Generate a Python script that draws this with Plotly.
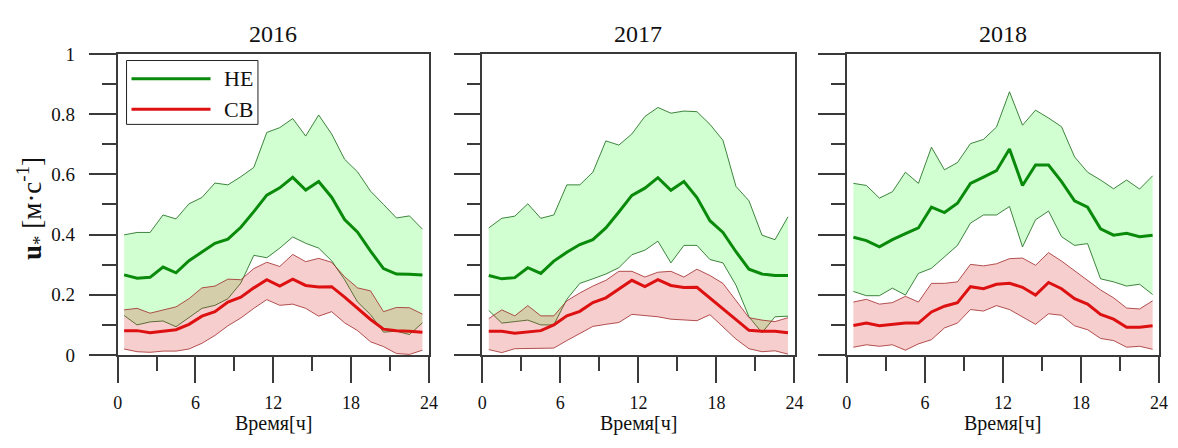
import plotly.graph_objects as go

hours = [h + 0.5 for h in range(24)]
years = ["2016", "2017", "2018"]

# 2016
ne_up_2016 = [0.399, 0.407, 0.407, 0.465, 0.452, 0.502, 0.523, 0.571, 0.565, 0.592, 0.623, 0.739,
              0.755, 0.785, 0.727, 0.797, 0.734, 0.650, 0.608, 0.544, 0.500, 0.455, 0.462, 0.418]
ne_mean_2016 = [0.266, 0.255, 0.258, 0.292, 0.273, 0.313, 0.342, 0.371, 0.385, 0.424, 0.476, 0.531,
                0.555, 0.590, 0.548, 0.576, 0.524, 0.450, 0.408, 0.345, 0.287, 0.269, 0.268, 0.266]
ne_lo_2016 = [0.131, 0.100, 0.110, 0.113, 0.094, 0.123, 0.155, 0.165, 0.187, 0.239, 0.331, 0.323,
              0.355, 0.392, 0.371, 0.355, 0.313, 0.250, 0.176, 0.134, 0.076, 0.079, 0.068, 0.107]
cb_up_2016 = [0.150, 0.155, 0.139, 0.150, 0.160, 0.187, 0.223, 0.229, 0.252, 0.250, 0.287, 0.308,
              0.294, 0.334, 0.310, 0.321, 0.308, 0.260, 0.223, 0.213, 0.144, 0.158, 0.157, 0.136]
cb_mean_2016 = [0.081, 0.081, 0.074, 0.078, 0.084, 0.102, 0.129, 0.144, 0.176, 0.192, 0.223, 0.250,
                0.229, 0.252, 0.231, 0.226, 0.227, 0.192, 0.155, 0.118, 0.086, 0.081, 0.079, 0.076]
cb_lo_2016 = [0.020, 0.011, 0.009, 0.013, 0.013, 0.020, 0.039, 0.065, 0.097, 0.123, 0.155, 0.184,
              0.165, 0.169, 0.155, 0.129, 0.144, 0.107, 0.081, 0.044, 0.028, 0.005, 0.002, 0.016]

# 2017
ne_up_2017 = [0.422, 0.454, 0.461, 0.502, 0.454, 0.465, 0.565, 0.565, 0.607, 0.711, 0.697, 0.734,
              0.792, 0.822, 0.803, 0.810, 0.808, 0.766, 0.713, 0.560, 0.512, 0.398, 0.383, 0.459]
ne_mean_2017 = [0.264, 0.253, 0.257, 0.290, 0.271, 0.312, 0.341, 0.367, 0.383, 0.422, 0.475, 0.530,
                0.554, 0.589, 0.547, 0.576, 0.523, 0.446, 0.407, 0.343, 0.285, 0.269, 0.264, 0.264]
ne_lo_2017 = [0.148, 0.106, 0.111, 0.116, 0.100, 0.100, 0.185, 0.238, 0.253, 0.269, 0.290, 0.333,
              0.348, 0.378, 0.306, 0.364, 0.364, 0.317, 0.306, 0.232, 0.127, 0.074, 0.127, 0.129]
cb_up_2017 = [0.121, 0.150, 0.130, 0.164, 0.130, 0.130, 0.180, 0.206, 0.229, 0.248, 0.278, 0.278,
              0.259, 0.275, 0.278, 0.259, 0.285, 0.264, 0.238, 0.180, 0.124, 0.116, 0.111, 0.124]
cb_mean_2017 = [0.079, 0.079, 0.072, 0.077, 0.081, 0.100, 0.130, 0.145, 0.174, 0.190, 0.220, 0.248,
                0.227, 0.250, 0.231, 0.224, 0.225, 0.190, 0.153, 0.118, 0.082, 0.079, 0.079, 0.074]
cb_lo_2017 = [0.018, 0.008, 0.021, 0.021, 0.021, 0.023, 0.048, 0.071, 0.095, 0.102, 0.108, 0.135,
              0.130, 0.127, 0.119, 0.116, 0.114, 0.134, 0.095, 0.053, 0.021, 0.011, 0.014, 0.003]

# 2018
ne_up_2018 = [0.570, 0.563, 0.521, 0.542, 0.607, 0.570, 0.690, 0.615, 0.639, 0.702, 0.716, 0.757,
              0.874, 0.763, 0.813, 0.787, 0.758, 0.658, 0.607, 0.581, 0.552, 0.581, 0.551, 0.595]
ne_mean_2018 = [0.391, 0.380, 0.359, 0.383, 0.403, 0.422, 0.491, 0.473, 0.504, 0.570, 0.591, 0.612,
                0.684, 0.563, 0.631, 0.631, 0.576, 0.512, 0.491, 0.419, 0.398, 0.404, 0.393, 0.398]
ne_lo_2018 = [0.211, 0.197, 0.197, 0.222, 0.199, 0.271, 0.288, 0.327, 0.364, 0.438, 0.465, 0.465,
              0.493, 0.359, 0.449, 0.478, 0.393, 0.364, 0.370, 0.253, 0.243, 0.229, 0.235, 0.201]
cb_up_2018 = [0.176, 0.185, 0.169, 0.174, 0.195, 0.176, 0.238, 0.238, 0.243, 0.301, 0.296, 0.303,
              0.320, 0.322, 0.298, 0.340, 0.312, 0.280, 0.250, 0.216, 0.190, 0.156, 0.153, 0.180]
cb_mean_2018 = [0.098, 0.106, 0.097, 0.102, 0.106, 0.106, 0.143, 0.162, 0.174, 0.227, 0.220, 0.235,
                0.238, 0.225, 0.199, 0.241, 0.220, 0.187, 0.169, 0.135, 0.119, 0.092, 0.092, 0.097]
cb_lo_2018 = [0.026, 0.034, 0.029, 0.034, 0.016, 0.037, 0.051, 0.090, 0.106, 0.151, 0.146, 0.164,
              0.151, 0.127, 0.102, 0.137, 0.132, 0.097, 0.084, 0.055, 0.048, 0.026, 0.029, 0.019]

x_ticks = [0, 6, 12, 18, 24]
y_ticks = [0, 0.2, 0.4, 0.6, 0.8, 1]
y_tick_labels = ["0", "0.2", "0.4", "0.6", "0.8", "1"]

data = {
    "2016": (ne_lo_2016, ne_mean_2016, ne_up_2016, cb_lo_2016, cb_mean_2016, cb_up_2016),
    "2017": (ne_lo_2017, ne_mean_2017, ne_up_2017, cb_lo_2017, cb_mean_2017, cb_up_2017),
    "2018": (ne_lo_2018, ne_mean_2018, ne_up_2018, cb_lo_2018, cb_mean_2018, cb_up_2018),
}

W, H = 1178, 448
FONT = "Liberation Serif, Times New Roman, serif"
x_domains = [[114 / W, 429 / W], [483 / W, 799 / W], [852 / W, 1168 / W]]
y_domain = [1 - 362 / H, 1 - 46 / H]

G_FILL = "rgba(30,255,30,0.2)"
G_EDGE = "rgba(30,110,30,0.85)"
G_MEAN = "#0a8a0a"
R_FILL = "rgba(220,30,30,0.22)"
R_EDGE = "rgba(160,40,40,0.8)"
R_MEAN = "#dd1111"
AX = "#3a3a3a"
TXT = "#111111"

fig = go.Figure()
for i, yr in enumerate(years):
    xa = "x" if i == 0 else f"x{i+1}"
    ya = "y" if i == 0 else f"y{i+1}"
    ne_lo, ne_mean, ne_up, cb_lo, cb_mean, cb_up = data[yr]
    common = dict(x=hours, xaxis=xa, yaxis=ya, showlegend=False, hoverinfo="skip", mode="lines")
    fig.add_trace(go.Scatter(y=ne_lo, line=dict(color=G_EDGE, width=1), **common))
    fig.add_trace(go.Scatter(y=ne_up, line=dict(color=G_EDGE, width=1), fill="tonexty",
                             fillcolor=G_FILL, **common))
    fig.add_trace(go.Scatter(y=cb_lo, line=dict(color=R_EDGE, width=1), **common))
    fig.add_trace(go.Scatter(y=cb_up, line=dict(color=R_EDGE, width=1), fill="tonexty",
                             fillcolor=R_FILL, **common))
    fig.add_trace(go.Scatter(y=ne_mean, line=dict(color=G_MEAN, width=3), **common))
    fig.add_trace(go.Scatter(y=cb_mean, line=dict(color=R_MEAN, width=3), **common))

layout = dict(
    width=W, height=H,
    margin=dict(l=0, r=0, t=0, b=0),
    paper_bgcolor="white", plot_bgcolor="white",
    font=dict(family=FONT, color=TXT),
    showlegend=False,
)

for i, yr in enumerate(years):
    xk = "xaxis" if i == 0 else f"xaxis{i+1}"
    yk = "yaxis" if i == 0 else f"yaxis{i+1}"
    ya = "y" if i == 0 else f"y{i+1}"
    xa = "x" if i == 0 else f"x{i+1}"
    layout[xk] = dict(
        domain=x_domains[i], anchor=ya, range=[0, 24],
        showline=True, linecolor=AX, linewidth=1.5, mirror=True,
        showgrid=False, zeroline=False,
        tickmode="array", tickvals=x_ticks, ticktext=[str(t) for t in x_ticks],
        ticks="outside", ticklen=26, tickwidth=1.5, tickcolor=AX,
        minor=dict(dtick=3, tick0=0, ticks="outside", ticklen=14, tickwidth=1.5, tickcolor=AX),
        tickfont=dict(family=FONT, size=18, color=TXT),
        ticklabelstandoff=5,
    )
    yax = dict(
        domain=y_domain, anchor=xa, range=[0, 1],
        showline=True, linecolor=AX, linewidth=1.5, mirror=True,
        showgrid=False, zeroline=False,
        tickmode="array", tickvals=y_ticks,
        ticks="outside", ticklen=27, tickwidth=1.5, tickcolor=AX,
        minor=dict(dtick=0.1, tick0=0, ticks="outside", ticklen=14, tickwidth=1.5, tickcolor=AX),
        tickfont=dict(family=FONT, size=19, color=TXT),
        ticklabelstandoff=10,
    )
    if i == 0:
        yax["ticktext"] = y_tick_labels
    else:
        yax["showticklabels"] = False
    layout[yk] = yax

fig.update_layout(**layout)

annotations = []
for i, yr in enumerate(years):
    xa = "x" if i == 0 else f"x{i+1}"
    annotations.append(dict(text=yr, xref=f"{xa} domain", x=0.5, yref="paper", y=1 - 25 / H,
                            showarrow=False, font=dict(family=FONT, size=24, color=TXT),
                            xanchor="center", yanchor="middle"))
    annotations.append(dict(text="Время[ч]", xref=f"{xa} domain", x=0.5, yref="paper", y=0,
                            showarrow=False, font=dict(family=FONT, size=20, color=TXT),
                            xanchor="center", yanchor="bottom"))
annotations.append(dict(
    text="<b>u</b><sub>*</sub> [м·с<sup>-1</sup>]", textangle=-90,
    xref="paper", x=27 / W, yref="paper", y=1 - 208 / H, showarrow=False,
    font=dict(family=FONT, size=27, color=TXT), xanchor="center", yanchor="middle"))

# legend (drawn manually inside first panel)
legend_names = ["НЕ", "СВ"]
legend_colors = [G_MEAN, R_MEAN]
shapes = [dict(type="rect", xref="paper", yref="paper",
               x0=123 / W, x1=256 / W, y0=1 - 120 / H, y1=1 - 53 / H,
               line=dict(color="#222222", width=1), fillcolor="white", layer="above")]
for k, (nm, col) in enumerate(zip(legend_names, legend_colors)):
    yy = 1 - (72 + 32 * k) / H
    shapes.append(dict(type="line", xref="paper", yref="paper", x0=128 / W, x1=208 / W,
                       y0=yy, y1=yy, line=dict(color=col, width=3), layer="above"))
    annotations.append(dict(text=nm, xref="paper", yref="paper", x=220 / W, y=yy,
                            xanchor="left", yanchor="middle", showarrow=False,
                            font=dict(family=FONT, size=22, color=TXT)))

fig.update_layout(annotations=annotations, shapes=shapes)
fig.write_html("out.html")
